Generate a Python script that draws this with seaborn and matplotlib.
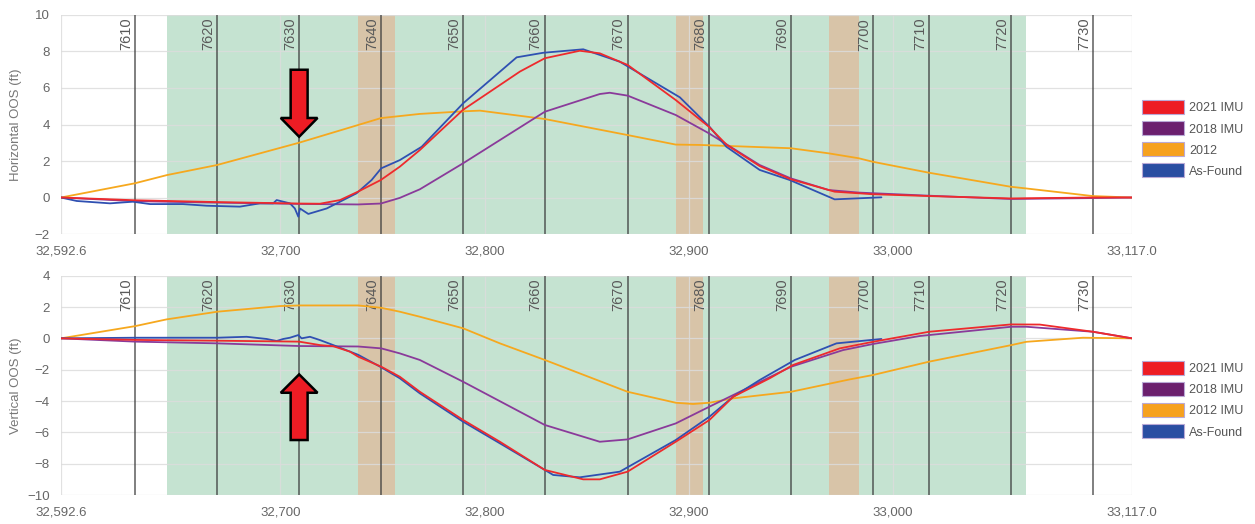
import pandas as pd
import matplotlib
matplotlib.use('Agg')
import matplotlib.pyplot as plt
from matplotlib.patches import FancyArrow, Patch
import seaborn as sns

# ---- data: station (ft) vs out-of-straight offset (ft) ----
mileposts = [32629.0, 32669.1, 32709.2, 32749.4, 32789.5, 32829.5, 32870.0,
             32910.1, 32950.1, 32990.2, 33017.6, 33057.9, 33097.9]
milepost_labels = ['7610', '7620', '7630', '7640', '7650', '7660', '7670',
                   '7680', '7690', '7700', '7710', '7720', '7730']
green_zone = (32644.5, 33065.2)
tan_zones = [(32738.1, 32756.2), (32893.6, 32907.0), (32968.7, 32983.2)]
x_ticks = [32592.6, 32700, 32800, 32900, 33000, 33117.0]
x_tick_labels = ['32,592.6', '32,700', '32,800', '32,900', '33,000', '33,117.0']

# horizontal panel
h_2021_x = [32592.6, 32628.8, 32669.0, 32709.1, 32719.4, 32729.2, 32738.0, 32749.2,
            32758.5, 32768.3, 32789.4, 32817.3, 32829.5, 32846.6, 32856.4, 32870.1,
            32893.6, 32909.8, 32918.6, 32934.7, 32949.9, 32971.4, 32990.0, 33017.5,
            33057.6, 33097.7, 33117.0]
h_2021_y = [0, -0.15, -0.25, -0.33, -0.34, -0.14, 0.32, 0.96, 1.69, 2.6, 4.8, 6.9,
            7.63, 8.04, 7.9, 7.26, 5.34, 3.88, 2.88, 1.72, 1.0, 0.32, 0.18, 0.08,
            -0.05, 0, 0]
h_2018_x = [32592.6, 32628.8, 32669.0, 32709.1, 32738.0, 32749.2, 32758.5, 32768.3,
            32789.4, 32829.5, 32856.4, 32861.3, 32870.1, 32893.6, 32909.8, 32934.7,
            32949.9, 32968.5, 32983.2, 33017.5, 33057.6, 33097.7, 33117.0]
h_2018_y = [0, -0.2, -0.28, -0.35, -0.38, -0.33, -0.02, 0.45, 1.87, 4.7, 5.67, 5.74,
            5.58, 4.52, 3.52, 1.78, 1.05, 0.41, 0.27, 0.1, -0.08, -0.03, 0]
h_2012_x = [32592.6, 32628.8, 32644.5, 32669.0, 32709.1, 32738.0, 32749.2, 32768.3,
            32789.4, 32797.7, 32829.5, 32870.1, 32893.6, 32905.4, 32949.9, 32968.5,
            32983.2, 32990.0, 33017.5, 33057.6, 33064.9, 33097.7, 33117.0]
h_2012_y = [0, 0.78, 1.23, 1.78, 3.0, 3.97, 4.35, 4.58, 4.72, 4.76, 4.3, 3.42, 2.9,
            2.88, 2.7, 2.42, 2.15, 1.96, 1.36, 0.59, 0.5, 0.08, 0]
h_found_x = [32592.6, 32600.3, 32616.6, 32627.8, 32636.2, 32652.3, 32663.9, 32680.2,
             32690.0, 32696.5, 32698.2, 32704.7, 32707.1, 32708.8, 32709.6, 32713.7,
             32722.7, 32729.2, 32737.3, 32744.7, 32749.4, 32758.5, 32769.2, 32789.5,
             32815.7, 32828.7, 32848.3, 32866.2, 32895.6, 32910.1, 32918.4, 32934.7,
             32949.4, 32971.4, 32994.3]
h_found_y = [0, -0.19, -0.32, -0.23, -0.36, -0.36, -0.45, -0.5, -0.32, -0.32, -0.14,
             -0.32, -0.6, -1.05, -0.6, -0.9, -0.6, -0.23, 0.23, 0.96, 1.6, 2.05, 2.78,
             5.16, 7.68, 7.93, 8.12, 7.44, 5.49, 3.88, 2.78, 1.51, 0.96, -0.1, 0.01]

# vertical panel
v_2021_x = [32592.6, 32628.9, 32669.1, 32709.2, 32719.4, 32725.9, 32734.1, 32738.1,
            32749.4, 32758.5, 32768.3, 32789.5, 32807.5, 32829.5, 32848.3, 32856.4,
            32870.0, 32893.6, 32910.1, 32921.7, 32939.6, 32951.0, 32973.9, 32990.2,
            33017.6, 33057.9, 33071.8, 33097.9, 33117.0]
v_2021_y = [0, -0.1, -0.15, -0.21, -0.43, -0.5, -0.85, -1.17, -1.81, -2.45, -3.41,
            -5.21, -6.6, -8.4, -9.0, -9.0, -8.51, -6.6, -5.21, -3.73, -2.55, -1.7,
            -0.64, -0.22, 0.42, 0.89, 0.88, 0.42, 0]
v_2018_x = [32592.6, 32628.9, 32669.1, 32709.2, 32738.1, 32749.4, 32758.5, 32768.3,
            32789.5, 32829.5, 32856.4, 32870.0, 32893.6, 32910.1, 32950.1, 32975.5,
            32990.2, 33013.1, 33057.9, 33065.3, 33097.9, 33117.0]
v_2018_y = [0, -0.21, -0.32, -0.49, -0.52, -0.64, -0.96, -1.38, -2.77, -5.53, -6.6,
            -6.45, -5.43, -4.36, -1.81, -0.75, -0.36, 0.15, 0.74, 0.74, 0.42, 0]
v_2012_x = [32592.6, 32628.9, 32644.3, 32669.1, 32699.8, 32709.2, 32738.1, 32749.4,
            32758.5, 32768.3, 32789.5, 32807.5, 32829.5, 32870.0, 32893.6, 32902.1,
            32910.1, 32921.7, 32950.1, 32978.8, 32990.2, 33017.6, 33057.9, 33065.3,
            33093.0, 33117.0]
v_2012_y = [0, 0.78, 1.21, 1.7, 2.06, 2.1, 2.1, 1.95, 1.7, 1.38, 0.64, -0.32, -1.38,
            -3.41, -4.11, -4.19, -4.11, -3.83, -3.41, -2.62, -2.34, -1.49, -0.43, -0.22,
            0.04, 0]
v_found_x = [32592.6, 32628.9, 32644.3, 32669.1, 32683.5, 32693.3, 32698.2, 32701.4,
             32704.7, 32708.8, 32710.4, 32714.5, 32719.4, 32725.9, 32738.1, 32749.4,
             32758.5, 32768.3, 32789.5, 32807.5, 32829.5, 32833.6, 32846.6, 32866.2,
             32893.6, 32910.1, 32921.7, 32934.7, 32951.9, 32972.3, 32994.3]
v_found_y = [0, 0.04, 0.04, 0.04, 0.1, -0.04, -0.17, -0.04, 0.04, 0.21, 0, 0.1, -0.11,
             -0.43, -1.05, -1.85, -2.55, -3.51, -5.32, -6.7, -8.4, -8.72, -8.87, -8.51,
             -6.49, -5.0, -3.73, -2.66, -1.38, -0.32, -0.04]

# arrows pointing at MP 7630
arrow_x = 32709.2
top_arrow = (7.0, 3.33)      # tail, tip
bottom_arrow = (-6.49, -2.3)

line_colors = {'2021 IMU': '#ee2a2c', '2018 IMU': '#8a3a9a', '2012': '#f6a81e',
               '2012 IMU': '#f6a81e', 'As-Found': '#2f50b2'}
legend_colors = ['#ed1c24', '#6b1f6e', '#f6a11f', '#2a4ea2']


def make_frame(series):
    parts = []
    for name, xs, ys in series:
        parts.append(pd.DataFrame({'station': xs, 'oos': ys, 'series': name}))
    return pd.concat(parts, ignore_index=True)


df_h = make_frame([('2012', h_2012_x, h_2012_y),
                   ('2018 IMU', h_2018_x, h_2018_y),
                   ('As-Found', h_found_x, h_found_y),
                   ('2021 IMU', h_2021_x, h_2021_y)])
df_v = make_frame([('2012 IMU', v_2012_x, v_2012_y),
                   ('2018 IMU', v_2018_x, v_2018_y),
                   ('As-Found', v_found_x, v_found_y),
                   ('2021 IMU', v_2021_x, v_2021_y)])

sns.set_style('white')
plt.rcParams['font.family'] = ['Liberation Sans', 'DejaVu Sans']

fig = plt.figure(figsize=(12.55, 5.24), dpi=100)
ax_h = fig.add_axes([0.0486, 0.5534, 0.8534, 0.4180])
ax_v = fig.add_axes([0.0486, 0.0553, 0.8534, 0.4186])


def style_panel(ax, df, ylim, yticks, ylabel, legend_labels, arrow):
    ax.axvspan(*green_zone, color='#c5e3d1', lw=0, zorder=0.1)
    for a, b in tan_zones:
        ax.axvspan(a, b, color='#d8c4a8', lw=0, zorder=0.2)
    for mp, lab in zip(mileposts, milepost_labels):
        ax.axvline(mp, color='#3a3a3a', alpha=0.65, lw=1.4, zorder=1.5)
        ax.annotate(lab, xy=(mp, 1.0), xycoords=('data', 'axes fraction'),
                    xytext=(-1.5, -2), textcoords='offset points',
                    rotation=90, ha='right', va='top', fontsize=10.5, color='#5a5a5a')

    sns.lineplot(data=df, x='station', y='oos', hue='series', palette=line_colors,
                 sort=False, estimator=None, legend=False, lw=1.3, ax=ax, zorder=3)

    tail, tip = arrow
    ax.add_patch(FancyArrow(arrow_x, tail, 0, tip - tail, width=8.3, head_width=18,
                            head_length=abs(tip - tail) * 0.28, length_includes_head=True,
                            fc='#ed1c24', ec='black', lw=1.8, zorder=5))

    ax.set_xlim(x_ticks[0], x_ticks[-1])
    ax.set_ylim(*ylim)
    ax.set_yticks(yticks)
    ax.set_xticks(x_ticks)
    ax.set_xticklabels(x_tick_labels)
    ax.grid(True, color='#dcdcdc', lw=0.9, alpha=0.85)
    ax.set_axisbelow(True)
    for s in ax.spines.values():
        s.set_visible(False)
    ax.tick_params(axis='both', length=5, color='#d0d0d0', labelsize=9.5,
                   labelcolor='#666666', pad=3)
    ax.set_xlabel('')
    ax.set_ylabel(ylabel, fontsize=9.5, color='#777777')
    ax.yaxis.set_label_coords(-0.036, 0.5)

    handles = [Patch(facecolor=c, edgecolor='#b9a9d6', lw=0.8) for c in legend_colors]
    ax.legend(handles, legend_labels, loc='center left', bbox_to_anchor=(1.009, 0.434),
              frameon=False, fontsize=9, handlelength=3.35, handleheight=1.35,
              handletextpad=0.45, labelspacing=0.55, labelcolor='#555555',
              borderpad=0, borderaxespad=0)


style_panel(ax_h, df_h, (-2, 10), range(-2, 11, 2), 'Horizontal OOS (ft)',
            ['2021 IMU', '2018 IMU', '2012', 'As-Found'], top_arrow)
style_panel(ax_v, df_v, (-10, 4), range(-10, 5, 2), 'Vertical OOS (ft)',
            ['2021 IMU', '2018 IMU', '2012 IMU', 'As-Found'], bottom_arrow)

fig.savefig('out.png', dpi=100)
